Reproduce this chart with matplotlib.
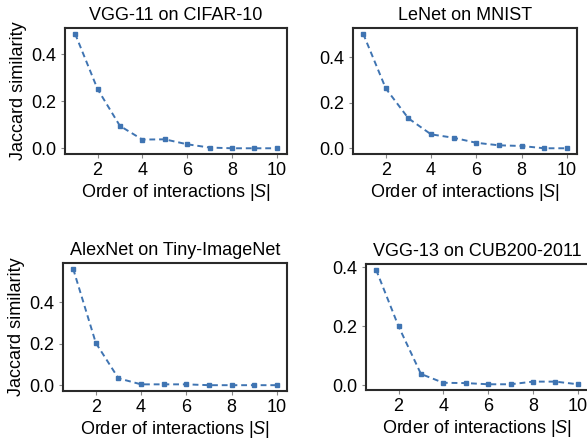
import matplotlib
matplotlib.use("Agg")
import matplotlib.pyplot as plt

plt.rcParams['font.family'] = ['Liberation Sans', 'DejaVu Sans']
plt.rcParams['mathtext.fontset'] = 'custom'
plt.rcParams['mathtext.rm'] = 'Liberation Sans'
plt.rcParams['mathtext.it'] = 'Liberation Sans:italic'

orders = [1, 2, 3, 4, 5, 6, 7, 8, 9, 10]
titles = ["VGG-11 on CIFAR-10", "LeNet on MNIST",
          "AlexNet on Tiny-ImageNet", "VGG-13 on CUB200-2011"]
vgg11_cifar10 = [0.487, 0.252, 0.095, 0.037, 0.038, 0.017, 0.003, 0.0, 0.0, 0.0]
lenet_mnist = [0.502, 0.262, 0.131, 0.061, 0.046, 0.024, 0.013, 0.010, 0.0, 0.0]
alexnet_tiny = [0.560, 0.204, 0.034, 0.005, 0.005, 0.005, 0.001, 0.001, 0.001, 0.001]
vgg13_cub = [0.392, 0.200, 0.038, 0.008, 0.007, 0.003, 0.003, 0.012, 0.012, 0.003]
series = [vgg11_cifar10, lenet_mnist, alexnet_tiny, vgg13_cub]
yticks = [[0.0, 0.2, 0.4], [0.0, 0.2, 0.4], [0.0, 0.2, 0.4], [0.0, 0.2, 0.4]]
xticks = [2, 4, 6, 8, 10]

W, H = 587, 444
fig = plt.figure(figsize=(W / 100, H / 100), dpi=100)

boxes = [(65, 287, 28, 154), (353, 577, 28, 154),
         (63, 287, 263, 391), (366, 588, 264, 390)]

color = '#3f74b2'
for i, (l, r, t, b) in enumerate(boxes):
    ax = fig.add_axes([l / W, 1 - b / H, (r - l) / W, (b - t) / H])
    ax.plot(orders, series[i], linestyle='--', color=color, marker='s',
            markersize=3.5, linewidth=1.4, dashes=(3, 2))
    ax.set_xticks(xticks)
    ax.set_yticks(yticks[i])
    ax.set_yticklabels([f"{v:.1f}" for v in yticks[i]])
    for s in ax.spines.values():
        s.set_color('#2a2a2a')
        s.set_linewidth(1.5)
    ax.tick_params(axis='both', direction='out', length=3, width=0.8,
                   color='#888888', labelsize=13, pad=3)
    ax.set_title(titles[i], fontsize=13, pad=6)
    ax.set_xlabel("Order of interactions |$S$|", fontsize=13, labelpad=2)
    if i % 2 == 0:
        ax.set_ylabel("Jaccard similarity", fontsize=13, labelpad=3)

fig.savefig("out.png", dpi=100)
